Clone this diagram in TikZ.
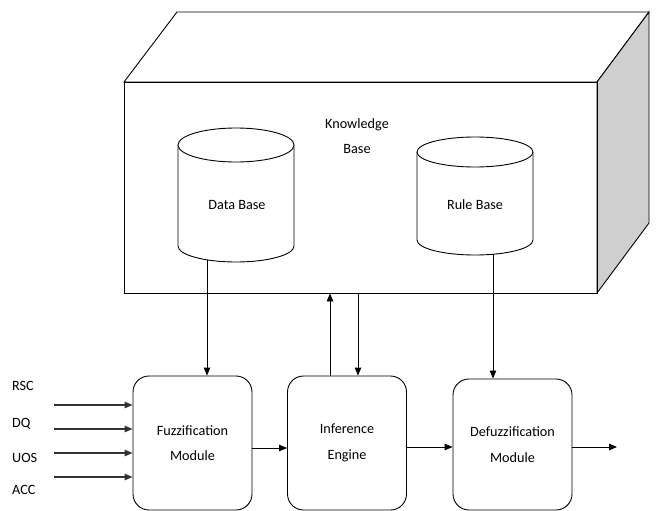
\documentclass[tikz,border=0pt]{standalone}
\usepackage{fontspec}
\setmainfont{Carlito}
\usetikzlibrary{arrows.meta}
\begin{document}
\begin{tikzpicture}[x=1pt,y=1pt,
  every node/.style={font=\fontsize{14.2}{25.5}\selectfont},
  line/.style={draw=black,line width=0.9pt},
  arr/.style={line width=0.9pt,-{Triangle[length=8pt,width=6.5pt]}},
  inarr/.style={line width=1.3pt,draw=black!80,-{Triangle[length=8pt,width=6.5pt]}},
  module/.style={draw,line width=0.9pt,rounded corners=16pt,align=center,minimum width=119pt,minimum height=134pt},
  lbl/.style={anchor=west,inner sep=0pt},
  cyl/.style={line width=0.9pt,fill=white}
]
\useasboundingbox (0,0) rectangle (656,-511);
% knowledge base box
\draw[line,fill=white] (124,-82) -- (177,-12) -- (649,-12) -- (597,-82) -- cycle;
\draw[line,fill=black!19] (597,-82) -- (649,-12) -- (649,-223) -- (597,-293) -- cycle;
\node[draw,line width=0.9pt,minimum width=473pt,minimum height=211pt,inner sep=0pt] (kb) at (360.5,-187.5) {};
\node[align=center] (kbt) at (357,-136) {Knowledge\\Base};
% data base cylinder
\draw[cyl] (178,-145) -- (178,-246) arc[start angle=180,end angle=360,x radius=58,y radius=16] -- (294,-145);
\draw[cyl] (236,-145) ellipse[x radius=58,y radius=17];
\node (db) at (237,-205) {Data Base};
\coordinate (dbout) at (207,-260);
% rule base cylinder
\draw[cyl] (417,-152) -- (417,-240) arc[start angle=180,end angle=360,x radius=58,y radius=15] -- (533,-152);
\draw[cyl] (475,-152) ellipse[x radius=58,y radius=15];
\node (rb) at (475,-205) {Rule Base};
\coordinate (rbout) at (493,-254);
% modules
\node[module] (fuzz) at (192.5,-443) {Fuzzification\\Module};
\node[module] (inf) at (347,-443) {Inference\\Engine};
\node[module,minimum height=131pt] (defuzz) at (512.5,-444.5) {Defuzzification\\Module};
% inputs
\node[lbl] (rsc) at (12,-386) {RSC};
\node[lbl] (dq) at (12,-424) {DQ};
\node[lbl] (uos) at (12,-458) {UOS};
\node[lbl] (acc) at (12,-490) {ACC};
\coordinate (i1) at (54,-405);
\coordinate (i2) at (54,-429);
\coordinate (i3) at (54,-453);
\coordinate (i4) at (54,-477);
\foreach \c in {i1,i2,i3,i4} \draw[inarr] (\c) -- (fuzz.west |- \c);
% vertical connectors
\draw[arr] (dbout) -- (fuzz.north -| dbout);
\coordinate (up) at (330,-293);
\coordinate (dn) at (358,-293);
\draw[arr] (inf.north -| up) -- (kb.south -| up);
\draw[arr] (kb.south -| dn) -- (inf.north -| dn);
\draw[arr] (rbout) -- (defuzz.north -| rbout);
% horizontal connectors
\coordinate (out) at (617,-447);
\draw[arr] (fuzz.east |- 0,-448) -- (inf.west |- 0,-448);
\draw[arr] (inf.east |- out) -- (defuzz.west |- out);
\draw[arr] (defuzz.east |- out) -- (out);
\end{tikzpicture}
\end{document}
